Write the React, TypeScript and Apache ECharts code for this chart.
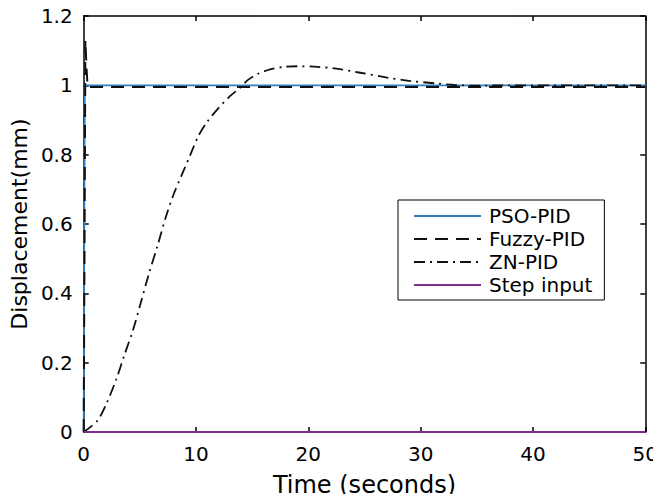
import React, { useEffect, useRef } from "react";
import * as echarts from "echarts";

const psoPid: [number, number][] = [
  [0, 0], [0.05, 0.6], [0.1, 1.0], [50, 1.0],
];
const fuzzyPid: [number, number][] = [
  [0, 0], [0.08, 0.6], [0.15, 1.13], [0.25, 1.05], [0.35, 0.995], [50, 0.995],
];
const znPid: [number, number][] = [
  [0, 0], [1.2, 0.032], [2.0, 0.08], [2.9, 0.152], [3.6, 0.22], [4.4, 0.295], [5.1, 0.375],
  [5.8, 0.456], [6.6, 0.54], [7.3, 0.619], [8.0, 0.685], [8.75, 0.743], [9.5, 0.8],
  [10.2, 0.853], [11.0, 0.895], [12.0, 0.934], [13.0, 0.968], [14.0, 0.995],
  [14.6, 1.015], [15.5, 1.033], [16.6, 1.046], [17.8, 1.053], [19.0, 1.055],
  [20.5, 1.054], [22.5, 1.048], [24.5, 1.037], [26.9, 1.023], [29.0, 1.013],
  [31.2, 1.006], [33.0, 1.001], [35.0, 0.999], [38.0, 1.0], [50, 1.0],
];
const stepInput: [number, number][] = [
  [0, 0], [50, 0],
];
const seriesNames = ["PSO-PID", "Fuzzy-PID", "ZN-PID", "Step input"];
const xTicks = { min: 0, max: 50, interval: 10 };
const yTicks = { min: 0, max: 1.2, interval: 0.2 };

export default function App() {
  const ref = useRef<HTMLDivElement>(null);
  useEffect(() => {
    if (!ref.current) return;
    const chart = echarts.init(ref.current, null, { renderer: "svg" });
    const font = "'DejaVu Sans', sans-serif";
    const axisCommon = {
      axisLine: { show: true, onZero: false, lineStyle: { color: "#000", width: 1.5 } },
      axisTick: { show: true, inside: true, length: 5, lineStyle: { color: "#000", width: 1.5 } },
      splitLine: { show: false },
    };
    chart.setOption({
      animation: false,
      backgroundColor: "#fff",
      textStyle: { fontFamily: font },
      grid: { left: 83, right: 13, top: 16, bottom: 66, containLabel: false },
      legend: {
        orient: "vertical",
        left: 398,
        top: 200,
        itemWidth: 67,
        itemHeight: 10,
        itemGap: 3,
        padding: [6, 12, 5, 15],
        borderColor: "#000",
        borderWidth: 1,
        backgroundColor: "#fff",
        itemStyle: { color: "transparent", borderWidth: 0, opacity: 0 },
        textStyle: { fontSize: 20, lineHeight: 20, color: "#000", fontFamily: font, padding: [0, 0, 0, 3] },
        data: seriesNames,
      },
      xAxis: [
        {
          type: "value", ...xTicks, position: "bottom",
          ...axisCommon,
          name: "Time (seconds)", nameLocation: "middle", nameGap: 41,
          nameTextStyle: { fontSize: 24, color: "#000", fontFamily: font },
          axisLabel: { fontSize: 20, color: "#000", margin: 12, fontFamily: font },
        },
        {
          type: "value", ...xTicks, position: "top",
          ...axisCommon,
          axisLabel: { show: false },
        },
      ],
      yAxis: [
        {
          type: "value", ...yTicks, position: "left",
          ...axisCommon,
          name: "Displacement(mm)", nameLocation: "middle", nameGap: 52,
          nameTextStyle: { fontSize: 22, color: "#000", fontFamily: font },
          axisLabel: { fontSize: 20, color: "#000", margin: 11, fontFamily: font },
        },
        {
          type: "value", ...yTicks, position: "right",
          ...axisCommon,
          axisLabel: { show: false },
        },
      ],
      series: [
        {
          name: "PSO-PID", type: "line", data: psoPid, symbol: "none",
          lineStyle: { color: "#2f7fc1", width: 1.8, type: "solid" }, itemStyle: { color: "#2f7fc1" },
          z: 3,
        },
        {
          name: "Fuzzy-PID", type: "line", data: fuzzyPid, symbol: "none",
          lineStyle: { color: "#111", width: 2, type: [13, 8] }, itemStyle: { color: "#111" },
          z: 4,
        },
        {
          name: "ZN-PID", type: "line", data: znPid, symbol: "none", smooth: 0.3,
          lineStyle: { color: "#111", width: 1.8, type: [11, 5, 2, 5] }, itemStyle: { color: "#111" },
          z: 4,
        },
        {
          name: "Step input", type: "line", data: stepInput, symbol: "none",
          lineStyle: { color: "#7e2f8e", width: 2.2, type: "solid" }, itemStyle: { color: "#7e2f8e" },
          z: 5,
        },
      ],
    });
    return () => chart.dispose();
  }, []);
  return <div ref={ref} style={{ width: 661, height: 502, margin: -8 }} />;
}
